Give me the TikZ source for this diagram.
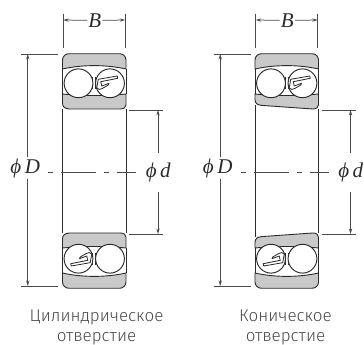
\documentclass[tikz,border=0pt]{standalone}
\usepackage{fontspec}
\usetikzlibrary{arrows.meta}
\setmainfont{Fira Sans Light}
\newfontfamily\dimfont{Liberation Serif Italic}
\definecolor{ringgray}{HTML}{C9C9C9}
\definecolor{inkline}{HTML}{2B2B2B}
\definecolor{dimline}{HTML}{4A4A4A}
\definecolor{captionink}{HTML}{4A4A4A}
\tikzset{
  x=1pt,y=1pt,
  ringedge/.style={draw=inkline,line width=0.9pt,line join=round},
  ringfill/.style={ringedge,fill=ringgray},
  ballstyle/.style={draw=inkline,line width=0.95pt,fill=white},
  cagestyle/.style={draw=inkline,line width=0.8pt,fill=white,line join=round},
  extline/.style={draw=dimline,line width=0.75pt},
  dimarrow/.style={draw=dimline,line width=0.75pt,-{Stealth[length=5.5pt,width=3.2pt]}},
  centerline/.style={draw=dimline,line width=0.75pt,dash pattern=on 5pt off 8pt on 35pt off 8pt on 5pt off 8pt on 21pt off 100pt},
  dimlabel/.style={font=\dimfont\fontsize{21}{21}\selectfont,text=inkline,inner sep=1pt},
  caption/.style={font=\fontsize{17}{20}\selectfont,text=captionink,align=center,inner sep=0pt},
}
% half of the rings, in coordinates centred on the bearing; #1 = rise of the bore edge at the left
\newcommand{\ringhalf}[1]{%
  \draw[ringfill] (-31.75,102) -- (-31.75,111) arc[start angle=180,end angle=90,radius=6.25]
     -- (25.5,117.25) arc[start angle=90,end angle=0,radius=6.25] -- (31.75,102)
     .. controls (12,106.5) and (-12,106.5) .. cycle;
  \draw[ringfill] (-31.75,77) .. controls (-12,75) and (12,75) .. (31.75,77) -- (31.75,66)
     .. controls (31.75,63.5) and (29.5,62) .. (26,62)
     -- (-25,{62+#1}) .. controls (-29.5,{62.5+#1}) and (-31.75,{64+#1}) .. (-31.75,{68+#1}) -- cycle;
  \draw[ringedge] (-31.75,102) -- (-31.75,77);
  \draw[ringedge] (31.75,102) -- (31.75,77);
  \draw[ringedge] (-31.75,{62+#1}) -- (-31.75,0);
  \draw[ringedge] (31.75,62) -- (31.75,0);
}
\newcommand{\ballhalf}{%
  \draw[ringedge,line width=0.6pt] (-1.5,94) -- (-1.5,82);
  \draw[ringedge,line width=0.6pt] (1.5,94) -- (1.5,82);
  \draw[ballstyle] (-15.75,87.7) circle[radius=14.4];
  \draw[ballstyle] (15.75,87.7) circle[radius=14.4];
  \draw[cagestyle] (23,95) -- (4,91.7) -- (2.5,83)
     .. controls (4,81.2) and (6,81.2) .. (8,82.5) -- (14,86) -- (14.75,87.7)
     -- (7.5,85) -- (6.5,89.3) -- (23.5,92.7) -- cycle;
}
\newcommand{\bearing}[3]{% prefix, x centre, taper
  \begin{scope}[shift={(#2,174)}]
    \ringhalf{#3}
    \begin{scope}[yscale=-1]\ringhalf{#3}\end{scope}
    \ballhalf
    \begin{scope}[rotate=180]\ballhalf\end{scope}
  \end{scope}
  \begin{scope}[shift={(#2,0)}]
    \coordinate (#1extBl) at (-31,331);
    \coordinate (#1extBl') at (-31,296.5);
    \coordinate (#1extBr) at (31,331);
    \coordinate (#1extBr') at (31,296.5);
    \coordinate (#1Bl) at (-31,325);
    \coordinate (#1Br) at (31,325);
    \node[dimlabel] (#1B) at (0.5,324.5) {B};
    \coordinate (#1Da) at (-73,291);
    \coordinate (#1Da') at (-36,291);
    \coordinate (#1Db) at (-73,59);
    \coordinate (#1Db') at (-36,59);
    \coordinate (#1Dt) at (-66.5,291);
    \coordinate (#1Dd) at (-66.5,59);
    \node[dimlabel] (#1D) at (-69,177) {\char"03D5\,D};
    \coordinate (#1da) at (35,235);
    \coordinate (#1da') at (69,235);
    \coordinate (#1db) at (35,111);
    \coordinate (#1db') at (69,111);
    \coordinate (#1dt) at (63.8,235);
    \coordinate (#1dd) at (63.8,111);
    \node[dimlabel] (#1d) at (64,172.5) {\char"03D5\,d};
    \coordinate (#1cl) at (-46,173);
    \coordinate (#1cr) at (42,173);
  \end{scope}
  \draw[extline] (#1extBl) -- (#1extBl');
  \draw[extline] (#1extBr) -- (#1extBr');
  \draw[dimarrow] (#1B) -- (#1Bl);
  \draw[dimarrow] (#1B) -- (#1Br);
  \draw[extline] (#1Da) -- (#1Da');
  \draw[extline] (#1Db) -- (#1Db');
  \draw[dimarrow] (#1Dt |- #1D.north) -- (#1Dt);
  \draw[dimarrow] (#1Dd |- #1D.south) -- (#1Dd);
  \draw[extline] (#1da) -- (#1da');
  \draw[extline] (#1db) -- (#1db');
  \draw[dimarrow] (#1dt |- #1d.north) ++(0,9) -- (#1dt);
  \draw[dimarrow] (#1dd |- #1d.south) ++(0,-9) -- (#1dd);
  \draw[centerline] (#1cl) -- (#1cr);
}
\begin{document}
\begin{tikzpicture}
  \useasboundingbox (0,0) rectangle (364,345);
  \fill[white] (0,0) rectangle (364,345);
  \bearing{L}{94.25}{0}
  \bearing{R}{286.75}{3.6}
  \node[caption] (capL) at (96.5,17.5) {Цилиндрическое\\отверстие};
  \node[caption] (capR) at (285.5,17.5) {Коническое\\отверстие};
\end{tikzpicture}
\end{document}
